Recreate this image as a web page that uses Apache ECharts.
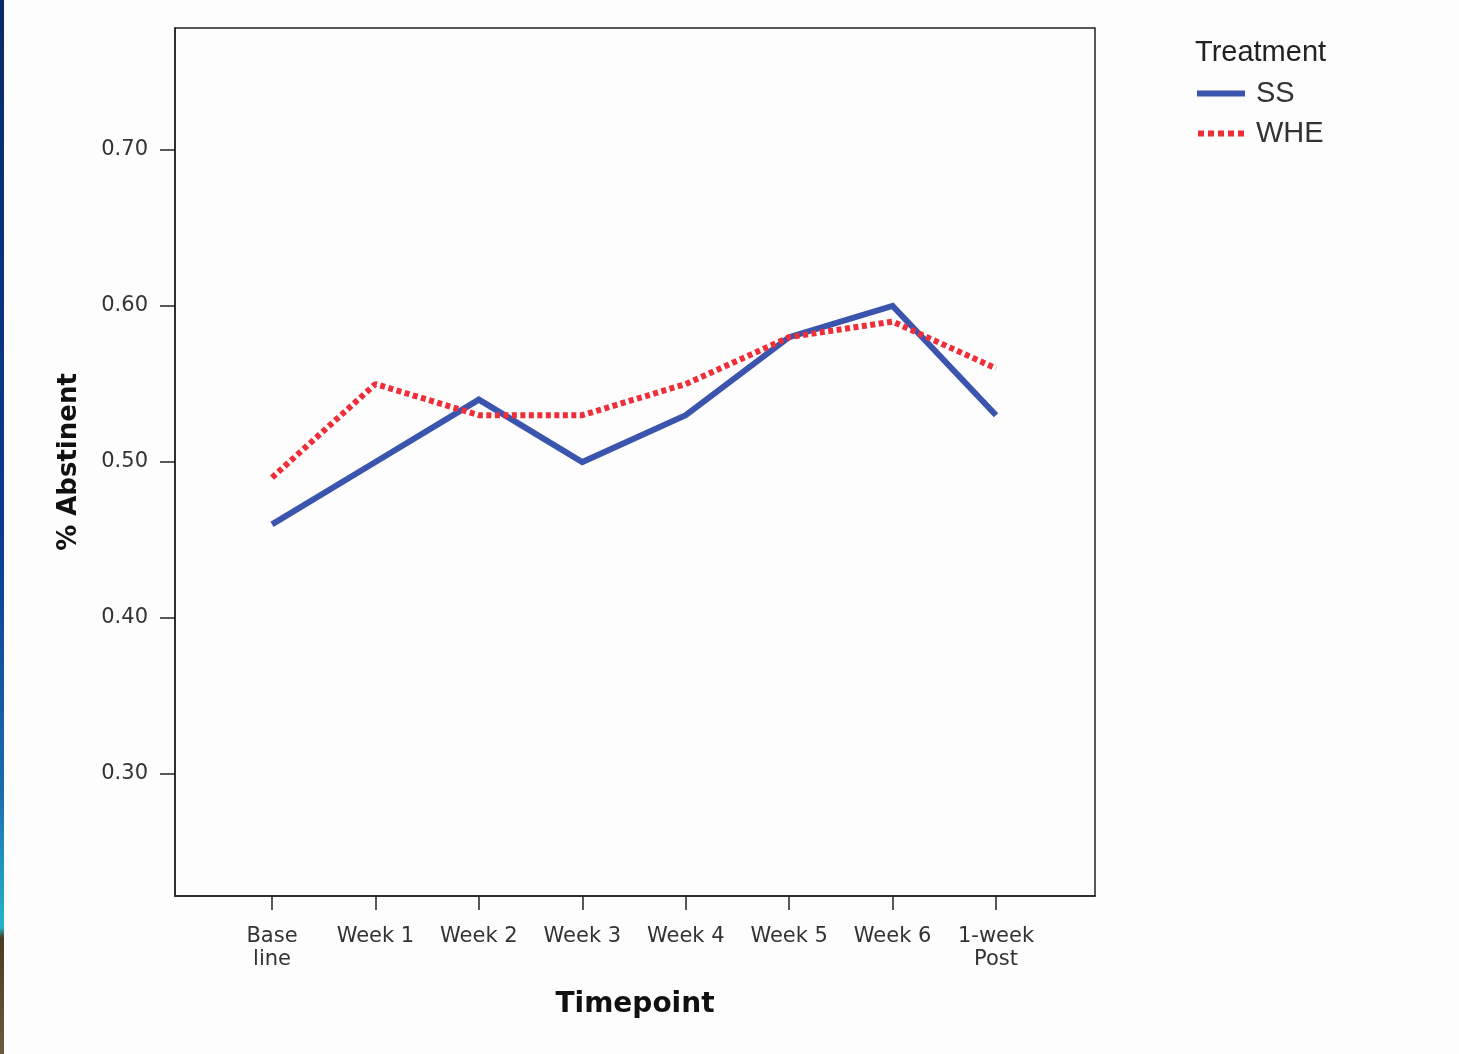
<!DOCTYPE html>
<html>
<head>
<meta charset="utf-8">
<script src="https://cdn.jsdelivr.net/npm/echarts@6/dist/echarts.min.js"></script>
<style>
html,body{margin:0;padding:0;background:#fdfdfd;}
#strip{position:absolute;left:0;top:0;width:4px;height:1054px;
background:linear-gradient(to bottom,#0a2a66 0%,#0b3a94 50%,#1a6bb0 75%,#25b5c8 88%,#4a3a20 89%,#6b5a40 100%);}
#chart{position:absolute;left:0;top:0;width:1459px;height:1054px;}
</style>
</head>
<body>
<div id="chart"></div>
<div id="strip"></div>
<script>
const categories = ['Base\nline','Week 1','Week 2','Week 3','Week 4','Week 5','Week 6','1-week\nPost'];
const ssValues  = [0.46, 0.50, 0.54, 0.50, 0.53, 0.58, 0.60, 0.53];
const wheValues = [0.49, 0.55, 0.53, 0.53, 0.55, 0.58, 0.59, 0.56];
const yTicks = [0.30, 0.40, 0.50, 0.60, 0.70];
const xTicks = [0,1,2,3,4,5,6,7];

const chart = echarts.init(document.getElementById('chart'), null, {renderer:'canvas'});
const lfont = 'Liberation Sans, Arial, sans-serif';
const dfont = 'DejaVu Sans, sans-serif';
const dotted = 'path://M0,0H6V6H0Z M10,0H16V6H10Z M20,0H26V6H20Z M30,0H36V6H30Z M40,0H46V6H40Z';
chart.setOption({
  backgroundColor: '#fdfdfd',
  animation: false,
  title: {
    text: 'Treatment', left: 1195, top: 38, padding: 0,
    textStyle: {fontFamily: lfont, fontSize: 29, fontWeight: 'normal', color: '#222'}
  },
  legend: {
    orient: 'vertical', left: 1197, top: 79, padding: 0,
    itemWidth: 48, itemHeight: 6, itemGap: 11,
    textStyle: {fontFamily: lfont, fontSize: 29, color: '#333', padding: [0,0,0,6]},
    data: [
      {name: 'SS', icon: 'rect'},
      {name: 'WHE', icon: dotted}
    ]
  },
  grid: {
    left: 175, top: 28, width: 920, height: 868,
    show: true, borderColor: '#222', borderWidth: 1.5, backgroundColor: '#fdfdfd'
  },
  xAxis: {
    type: 'value', min: -0.938, max: 7.957,
    splitLine: {show: false},
    axisLine: {show: true, onZero: false, lineStyle: {color: '#222', width: 1.5}},
    axisTick: {show: true, length: 14, customValues: xTicks, lineStyle: {color: '#222', width: 1.5}},
    axisLabel: {
      customValues: xTicks, margin: 29,
      fontFamily: dfont, fontSize: 21, color: '#333', lineHeight: 23,
      formatter: v => categories[Math.round(v)]
    },
    name: 'Timepoint', nameLocation: 'middle', nameGap: 95,
    nameTextStyle: {fontFamily: dfont, fontSize: 28, fontWeight: 'bold', color: '#111'}
  },
  yAxis: {
    type: 'value', min: 0.2218, max: 0.7782,
    splitLine: {show: false},
    axisLine: {show: true, onZero: false, lineStyle: {color: '#222', width: 1.5}},
    axisTick: {show: true, length: 15, customValues: yTicks, lineStyle: {color: '#222', width: 1.5}},
    axisLabel: {
      customValues: yTicks, margin: 27, padding: [5,0,0,0],
      fontFamily: dfont, fontSize: 21, color: '#333',
      formatter: v => v.toFixed(2)
    },
    name: '% Abstinent', nameLocation: 'middle', nameGap: 93,
    nameTextStyle: {fontFamily: dfont, fontSize: 26, fontWeight: 'bold', color: '#111'}
  },
  series: [
    {
      name: 'SS', type: 'line', symbol: 'none',
      data: ssValues.map((v,i) => [xTicks[i], v]),
      lineStyle: {color: '#3b55ae', width: 6, join: 'miter'},
      itemStyle: {color: '#3b55ae'}
    },
    {
      name: 'WHE', type: 'line', symbol: 'none',
      data: wheValues.map((v,i) => [xTicks[i], v]),
      lineStyle: {color: '#ee2f3a', width: 6, type: [5,3.5]},
      itemStyle: {color: '#ee2f3a'}
    }
  ]
});
</script>
</body>
</html>
